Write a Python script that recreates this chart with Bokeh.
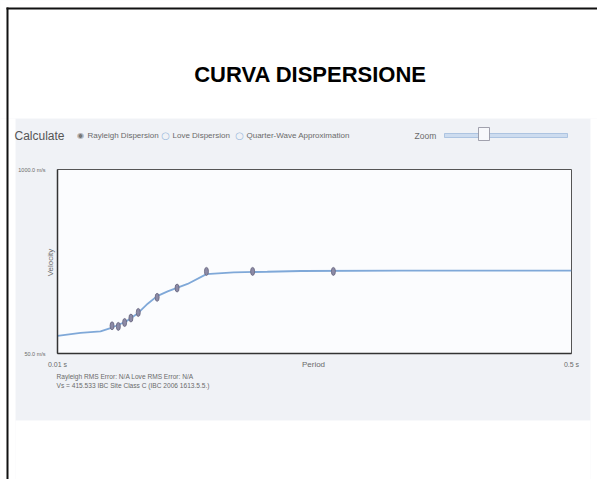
from math import pi
from bokeh.plotting import figure
from bokeh.models import FixedTicker, Range1d
from bokeh.core.properties import value
from bokeh.embed import file_html
from bokeh.resources import INLINE

# ---- data ----
slide_title = "CURVA DISPERSIONE"
period_curve = [0.010, 0.032, 0.051, 0.062, 0.075, 0.086, 0.096, 0.105, 0.115,
                0.134, 0.152, 0.178, 0.210, 0.242, 0.338, 0.433, 0.500]
velocity_curve = [141, 157, 164, 184, 214, 255, 307, 346, 371,
                  409, 460, 469, 472, 476, 478, 478, 478]
period_pts = [0.062, 0.068, 0.074, 0.080, 0.087, 0.105, 0.124, 0.152, 0.196, 0.273]
velocity_pts = [193, 190, 210, 233, 262, 340, 388, 474, 474, 474]
x_ticks = [0.01, 0.5]
x_tick_labels = ["0.01 s", "0.5 s"]
y_ticks = [50, 1000]
y_tick_labels = ["50.0 m/s", "1000.0 m/s"]
x_title = "Period"
y_title = "Velocity"
radio_options = ["Rayleigh Dispersion", "Love Dispersion", "Quarter-Wave Approximation"]
info_lines = ["Rayleigh RMS Error: N/A Love RMS Error: N/A",
              "Vs = 415.533    IBC Site Class C (IBC 2006 1613.5.5.)"]

FONT = "Liberation Sans"
GREY = "#6a6a6a"
W, H = 597, 479
FL, FR, FT, FB = 57, 571, 169, 353   # frame edges on the page

p = figure(width=W, height=H, output_backend="svg", toolbar_location=None,
           x_range=Range1d(0.01, 0.5), y_range=Range1d(50, 1000),
           min_border_left=FL, min_border_right=W - FR, min_border_top=FT,
           min_border_bottom=H - FB)
p.border_fill_color = "#f0f2f6"
p.background_fill_color = "#fbfcfe"
p.outline_line_color = "#555555"
p.outline_line_width = 1
p.grid.visible = False
# page-pixel ranges for decoration
p.extra_x_ranges = {"px": Range1d(FL, FR)}
p.extra_y_ranges = {"py": Range1d(FB, FT)}

# axes
for ax in (p.xaxis[0], p.yaxis[0]):
    ax.axis_line_color = "#333333"
    ax.axis_line_width = 1.5
    ax.major_tick_line_color = None
    ax.minor_tick_line_color = None
    ax.major_label_text_font = FONT
    ax.major_label_text_color = GREY
p.xaxis.ticker = FixedTicker(ticks=x_ticks)
p.xaxis.major_label_overrides = dict(zip(x_ticks, x_tick_labels))
p.xaxis.major_label_standoff = 1
p.xaxis.major_label_text_font_size = "7px"
p.yaxis.ticker = FixedTicker(ticks=y_ticks)
p.yaxis.major_label_overrides = dict(zip(y_ticks, y_tick_labels))
p.yaxis.major_label_standoff = 6
p.yaxis.major_label_text_font_size = "5.5px"

# data
p.line(period_curve, velocity_curve, line_color="#7fa8d8", line_width=1.8)
p.ellipse(period_pts, velocity_pts, width=4, height=8, width_units="screen",
          height_units="screen", fill_color="#8c8aa6", line_color="#66647c",
          line_width=0.8)

# ---- decoration in page pixels ----
deco = dict(x_range_name="px", y_range_name="py", level="overlay")
# white slide around the scanned screenshot
p.quad(left=[0, 0, 590, 15], right=[W, 15, W, 590], top=[0, 118, 118, 420],
       bottom=[118, H, H, H], fill_color="white", line_color=None, **deco)
# slide border
p.segment(x0=[6, 7], y0=[8, 7], x1=[W, 7], y1=[8, H], line_color="#111111",
          line_width=2, **deco)


def txt(s, x, y, size="8px", color=GREY, align="left", style="normal", angle=0,
        font=FONT):
    p.text(x=[x], y=[y], text=[s], text_font=value(font), text_font_size=size,
           text_color=color, text_align=align, text_baseline="middle",
           text_font_style=style, angle=angle, **deco)


txt(slide_title, 310, 73.5, size="22px", color="black", align="center", style="bold")

# control row
txt("Calculate", 14, 135, size="12px", color="#555555")
txt("\u25c9", 80, 135, size="8px", color="#777777", align="center", font="DejaVu Sans")
txt(radio_options[0], 87, 135, size="8px")
txt("\u25cb", 165, 135, size="10px", color="#9ab8dc", align="center", font="DejaVu Sans")
txt(radio_options[1], 172, 135, size="8px")
txt("\u25cb", 239, 135, size="10px", color="#9ab8dc", align="center", font="DejaVu Sans")
txt(radio_options[2], 246, 135, size="8px")
txt("Zoom", 414, 135, size="8.5px")
p.quad(left=[444], right=[567], top=[133], bottom=[137], fill_color="#cddcef",
       line_color="#9fbbdc", line_width=0.8, **deco)
p.quad(left=[478], right=[489], top=[127], bottom=[140], fill_color="#f7f8fb",
       line_color="#8c8c99", line_width=0.8, **deco)

# axis titles
txt(y_title, 50, 262, size="8px", align="center", angle=pi / 2)
txt(x_title, 313, 364, size="8px", align="center")

# info lines
txt(info_lines[0], 56, 376, size="6.6px")
txt(info_lines[1], 56, 385, size="6.6px")

open("out.html", "w").write(file_html(p, INLINE))
